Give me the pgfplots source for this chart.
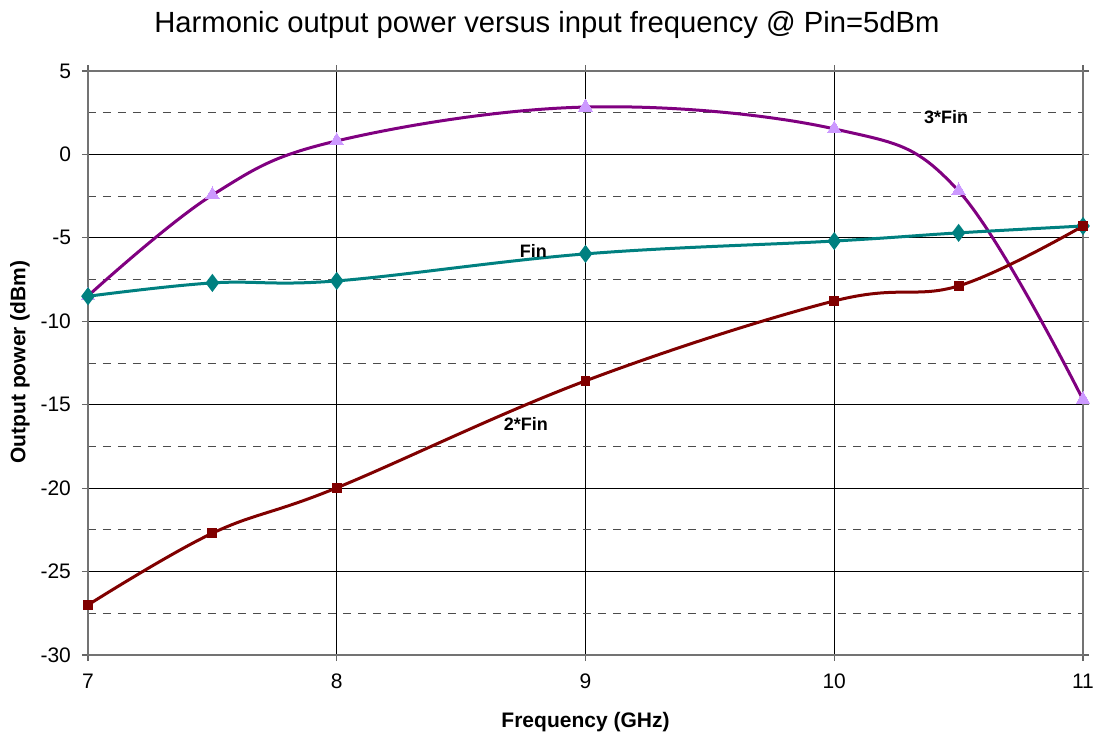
\documentclass[border=0pt]{standalone}
\usepackage{pgfplots}
\pgfplotsset{compat=1.18}
\usepackage{fontspec}
\setmainfont{Liberation Sans}
\definecolor{cpurple}{HTML}{800080}
\definecolor{clav}{HTML}{CC99FF}
\definecolor{cteal}{HTML}{008080}
\definecolor{cred}{HTML}{800000}
\begin{document}
\begin{tikzpicture}
\useasboundingbox (-44pt,-40pt) rectangle (505pt,327.5pt);
\begin{axis}[
  at={(0,0)}, anchor=south west,
  scale only axis, width=497.5pt, height=292pt,
  xmin=7, xmax=11, ymin=-30, ymax=5,
  xtick={7,8,9,10,11}, ytick={-30,-25,...,5},
  minor ytick={-27.5,-22.5,...,2.5},
  grid=both,
  major grid style={black, line width=0.5pt},
  minor grid style={black!70, dashed, dash pattern=on 4pt off 3.5pt, line width=0.45pt},
  axis line style={black!55, line width=0.7pt},
  tick style={black!60, line width=0.6pt},
  tick align=outside, major tick length=3pt, minor tick length=0pt,
  ticklabel style={font=\fontsize{10.5}{12}\selectfont},
  /pgf/number format/assume math mode=true,
  xticklabel style={yshift=-3pt},
  yticklabel style={xshift=-2pt},
  clip=false,
]
\addplot[cpurple, line width=1.5pt, smooth, tension=0.62, mark=triangle*, mark size=4pt,
  mark options={clav, draw=clav, fill=clav, line width=0pt}] coordinates {
  (7,-8.48) (7.5,-2.43) (8,0.81) (9,2.84) (10,1.53) (10.5,-2.19) (11,-14.7)};
\addplot[cteal, line width=1.5pt, smooth, tension=0.62, mark=diamond*, mark size=3.3pt,
  mark options={cteal, fill=cteal}] coordinates {
  (7,-8.5) (7.5,-7.7) (8,-7.58) (9,-5.96) (10,-5.19) (10.5,-4.7) (11,-4.29)};
\addplot[cred, line width=1.5pt, smooth, tension=0.62, mark=square*, mark size=1.7pt,
  mark options={cred, fill=cred}] coordinates {
  (7,-27.0) (7.5,-22.7) (8,-19.98) (9,-13.57) (10,-8.78) (10.5,-7.88) (11,-4.29)};
\node[font=\bfseries\fontsize{9}{10}\selectfont] at (axis cs:10.45,2.24) {3*Fin};
\node[font=\bfseries\fontsize{9}{10}\selectfont] at (axis cs:8.79,-5.78) {Fin};
\node[font=\bfseries\fontsize{9}{10}\selectfont] at (axis cs:8.76,-16.15) {2*Fin};
\end{axis}
\node[font=\fontsize{14.6}{16}\selectfont] at (229.5pt,315pt) {Harmonic output power versus input frequency @ Pin=5dBm};
\node[font=\bfseries\fontsize{10.5}{12}\selectfont] at (248.75pt,-33.5pt) {Frequency (GHz)};
\node[font=\bfseries\fontsize{10.5}{12}\selectfont, rotate=90] at (-34pt,146.5pt) {Output power (dBm)};
\end{tikzpicture}
\end{document}
